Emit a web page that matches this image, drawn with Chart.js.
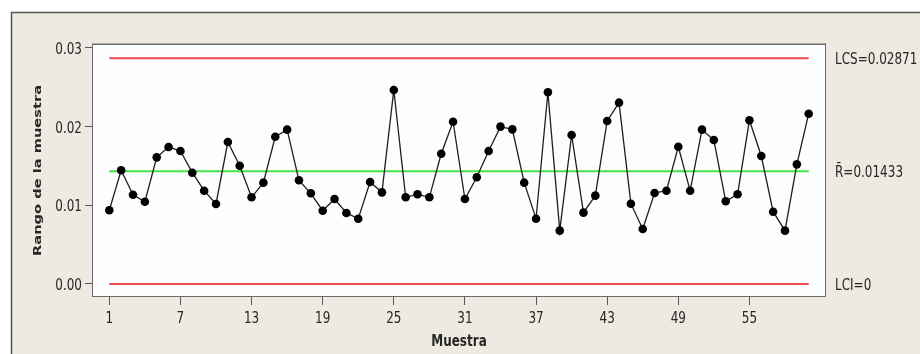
<!DOCTYPE html>
<html>
<head>
<meta charset="utf-8">
<title>Gráfica R</title>
<script src="https://cdn.jsdelivr.net/npm/chart.js@4/dist/chart.umd.min.js"></script>
<style>
  html, body { margin: 0; padding: 0; background: #ffffff; }
  #c { display: block; }
</style>
</head>
<body>
<canvas id="c" width="920" height="354"></canvas>
<script>
// Sample numbers (x) and the range of each sample (y)
const samples = [1, 2, 3, 4, 5, 6, 7, 8, 9, 10, 11, 12, 13, 14, 15, 16, 17, 18, 19, 20,
                 21, 22, 23, 24, 25, 26, 27, 28, 29, 30, 31, 32, 33, 34, 35, 36, 37, 38, 39, 40,
                 41, 42, 43, 44, 45, 46, 47, 48, 49, 50, 51, 52, 53, 54, 55, 56, 57, 58, 59, 60];
const ranges = [0.00937, 0.01445, 0.01135, 0.01046, 0.01610, 0.01741, 0.01691, 0.01415, 0.01186, 0.01017,
                0.01805, 0.01504, 0.01102, 0.01288, 0.01872, 0.01962, 0.01318, 0.01153, 0.00932, 0.01080,
                0.00902, 0.00830, 0.01297, 0.01165, 0.02466, 0.01102, 0.01140, 0.01102, 0.01656, 0.02063,
                0.01080, 0.01356, 0.01691, 0.02000, 0.01966, 0.01288, 0.00830, 0.02437, 0.00678, 0.01894,
                0.00907, 0.01123, 0.02072, 0.02305, 0.01021, 0.00699, 0.01157, 0.01186, 0.01745, 0.01186,
                0.01962, 0.01830, 0.01051, 0.01140, 0.02081, 0.01627, 0.00919, 0.00678, 0.01521, 0.02165];

// Control limits
const ucl = 0.02871;
const centerLine = 0.01433;
const lcl = 0;

// Axis ticks and titles
const xTickValues = [1, 7, 13, 19, 25, 31, 37, 43, 49, 55];
const yTickValues = [0, 0.01, 0.02, 0.03];
const yTickLabels = ['0.00', '0.01', '0.02', '0.03'];
const xTitle = 'Muestra';
const yTitle = 'Rango de la muestra';
const limitLabels = [
  { value: ucl, text: 'LCS=' + ucl.toFixed(5) },
  { value: centerLine, text: 'R\u0304=' + centerLine.toFixed(5) },
  { value: lcl, text: 'LCI=' + lcl }
];

const BEIGE = '#eeeae1';
const TEXT = '#262626';
const FONT = '"DejaVu Sans", Verdana, sans-serif';
const STRETCH = 1.33;   // glyphs are drawn taller than wide

function capHeight(ctx) {
  return ctx.measureText('H').actualBoundingBoxAscent;
}

// Horizontal text, vertically stretched, positioned by the centre of its capitals
function drawText(ctx, text, x, capCenterY, font, align) {
  ctx.save();
  ctx.font = font;
  ctx.fillStyle = TEXT;
  ctx.textAlign = align;
  ctx.textBaseline = 'alphabetic';
  const cap = capHeight(ctx);
  ctx.translate(x, capCenterY + cap * STRETCH / 2);
  ctx.scale(1, STRETCH);
  ctx.fillText(text, 0, 0);
  ctx.restore();
}

const framePlugin = {
  id: 'minitabFrame',
  beforeDraw(chart) {
    const { ctx, chartArea: a } = chart;
    ctx.save();
    ctx.fillStyle = '#ffffff';
    ctx.fillRect(0, 0, chart.width, chart.height);
    ctx.fillStyle = BEIGE;
    ctx.fillRect(11, 12, chart.width - 11, chart.height - 12);
    ctx.strokeStyle = '#555555';
    ctx.lineWidth = 1.5;
    ctx.beginPath();
    ctx.moveTo(11.5, chart.height);
    ctx.lineTo(11.5, 12.5);
    ctx.lineTo(chart.width, 12.5);
    ctx.stroke();
    ctx.fillStyle = '#fcfdff';
    ctx.fillRect(a.left, a.top, a.right - a.left, a.bottom - a.top);
    ctx.restore();
  },
  afterDraw(chart) {
    const { ctx, chartArea: a } = chart;
    const xs = chart.scales.x, ys = chart.scales.y;

    // plot frame
    ctx.save();
    ctx.strokeStyle = '#6a6a6a';
    ctx.lineWidth = 1;
    ctx.strokeRect(a.left + 0.5, a.top + 0.5, a.right - a.left - 1, a.bottom - a.top - 1);
    ctx.strokeStyle = 'rgba(90,90,90,0.45)';
    ctx.beginPath();
    ctx.moveTo(a.left, a.top - 0.5);
    ctx.lineTo(a.right, a.top - 0.5);
    ctx.stroke();
    ctx.restore();

    // tick labels
    const tickFont = '12px ' + FONT;
    xs.ticks.forEach(t => {
      drawText(ctx, String(t.value), xs.getPixelForValue(t.value), 317.5, tickFont, 'center');
    });
    ys.ticks.forEach((t, i) => {
      drawText(ctx, yTickLabels[i], 82, ys.getPixelForValue(t.value), tickFont, 'right');
    });

    // control limit labels
    limitLabels.forEach(l => {
      drawText(ctx, l.text, 835, ys.getPixelForValue(l.value), tickFont, 'left');
    });

    // axis titles
    drawText(ctx, xTitle, (a.left + a.right) / 2, 340, 'bold 12px ' + FONT, 'center');

    ctx.save();
    ctx.font = 'bold 11px ' + FONT;
    ctx.fillStyle = TEXT;
    ctx.textAlign = 'center';
    ctx.textBaseline = 'alphabetic';
    const cap = capHeight(ctx);
    ctx.translate(37, (a.top + a.bottom) / 2);
    ctx.rotate(-Math.PI / 2);
    ctx.scale(STRETCH, 1);
    ctx.fillText(yTitle, 0, cap / 2);
    ctx.restore();
  }
};

function limitLine(value, color) {
  return {
    data: [{ x: samples[0], y: value }, { x: samples[samples.length - 1], y: value }],
    borderColor: color,
    borderWidth: 2,
    pointRadius: 0,
    fill: false
  };
}

new Chart(document.getElementById('c'), {
  type: 'line',
  data: {
    datasets: [
      {
        data: samples.map((s, i) => ({ x: s, y: ranges[i] })),
        borderColor: '#1e1e1e',
        borderWidth: 1.3,
        pointRadius: 4.3,
        pointBackgroundColor: '#000000',
        pointBorderColor: '#000000',
        pointBorderWidth: 0,
        tension: 0,
        fill: false
      },
      limitLine(centerLine, '#44e344'),
      limitLine(ucl, '#ee4848'),
      limitLine(lcl, '#ee4848')
    ]
  },
  options: {
    responsive: false,
    animation: false,
    devicePixelRatio: 1,
    layout: { padding: { left: 0, top: 44, right: 94, bottom: 0 } },
    plugins: { legend: { display: false }, tooltip: { enabled: false } },
    scales: {
      x: {
        type: 'linear',
        min: -0.46,
        max: 61.46,
        afterBuildTicks: s => { s.ticks = xTickValues.map(v => ({ value: v })); },
        afterFit: s => { s.height = 57; },
        ticks: { color: 'rgba(0,0,0,0)', autoSkip: false, maxRotation: 0, font: { size: 12 } },
        grid: { drawOnChartArea: false, drawTicks: true, tickLength: 8, color: '#555555' },
        border: { display: false }
      },
      y: {
        type: 'linear',
        min: -0.001653,
        max: 0.030508,
        afterBuildTicks: s => { s.ticks = yTickValues.map(v => ({ value: v })); },
        afterFit: s => { s.width = 92; },
        ticks: { color: 'rgba(0,0,0,0)', font: { size: 12 } },
        grid: { drawOnChartArea: false, drawTicks: true, tickLength: 7, color: '#555555' },
        border: { display: false }
      }
    }
  },
  plugins: [framePlugin]
});
</script>
</body>
</html>
